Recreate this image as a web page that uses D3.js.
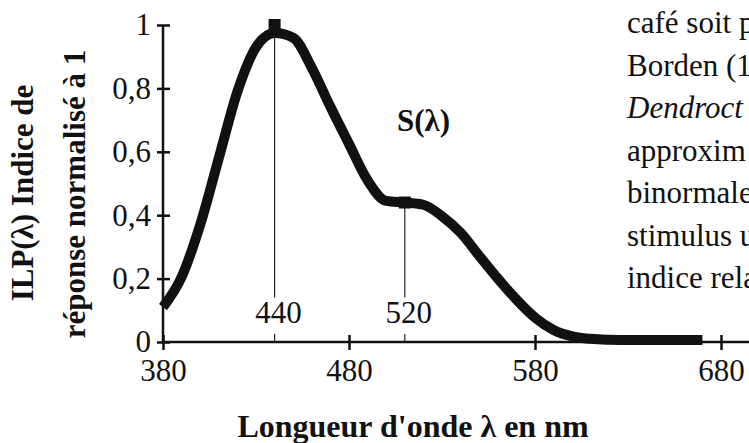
<!DOCTYPE html>
<html>
<head>
<meta charset="utf-8">
<script src="https://cdn.jsdelivr.net/npm/d3@7"></script>
<style>
body { margin: 0; background: #fff; }
svg { display: block; }
text { font-family: "Liberation Serif", "Times New Roman", serif; fill: #111; }
.axis text { font-size: 31px; font-family: "Liberation Serif", "Times New Roman", serif; }
.axis line, .axis-line { stroke: #111; }
.title { font-weight: bold; }
</style>
</head>
<body>
<svg id="chart"></svg>
<script>
var W = 749, H = 443;

// wavelength (nm) and normalised response
var wavelengths = [380, 390, 400, 410, 420, 430, 440, 450, 460, 470,
                   480, 490, 500, 510, 520, 530, 540, 550, 560, 570,
                   580, 590, 600, 610, 620, 630, 640, 650, 660, 670];
var response = [0.11, 0.205, 0.37, 0.58, 0.79, 0.93, 0.975, 0.96, 0.865, 0.742,
                0.625, 0.51, 0.445, 0.44, 0.433, 0.397, 0.345, 0.272, 0.20, 0.134,
                0.077, 0.038, 0.018, 0.01, 0.007, 0.006, 0.006, 0.006, 0.006, 0.006];

var xTicks = [380, 480, 580, 680];
var yTicks = [0, 0.2, 0.4, 0.6, 0.8, 1];
var yTickLabels = ["0", "0,2", "0,4", "0,6", "0,8", "1"];

// the two marked maxima (the second one sits a bit left of 520 on the scale)
var peakX = [440, 510];
var peakY = [1, 0.44];
var peakLabels = ["440", "520"];

var sideText = ["café soit p", "Borden (1", "Dendroct", "approxim", "binormale", "stimulus u", "indice rela"];

var x = d3.scaleLinear().domain([380, 680]).range([163, 721]);
var y = d3.scaleLinear().domain([0, 1]).range([342, 25]);

var svg = d3.select("#chart").attr("width", W).attr("height", H);

// axes
var gx = svg.append("g")
    .attr("class", "axis x-axis")
    .attr("transform", "translate(0," + y(0) + ")")
    .call(d3.axisBottom(x).tickValues(xTicks).tickSize(8).tickSizeOuter(0).tickPadding(9));
gx.select(".domain").remove();
gx.selectAll(".tick line").attr("y1", -7).attr("y2", 8).attr("stroke-width", 2.5);

var gy = svg.append("g")
    .attr("class", "axis y-axis")
    .attr("transform", "translate(" + x(380) + ",0)")
    .call(d3.axisLeft(y).tickValues(yTicks)
        .tickFormat(function(d, i) { return yTickLabels[i]; })
        .tickSize(6).tickSizeOuter(0).tickPadding(6));
gy.select(".domain").remove();
gy.selectAll(".tick line").attr("x1", 7).attr("x2", -6).attr("stroke-width", 2.5);

svg.append("line").attr("class", "axis-line")
    .attr("x1", x(380)).attr("x2", W)
    .attr("y1", y(0)).attr("y2", y(0))
    .attr("stroke-width", 2.5);
svg.append("line").attr("class", "axis-line")
    .attr("x1", x(380)).attr("x2", x(380))
    .attr("y1", y(0) + 1).attr("y2", y(1))
    .attr("stroke-width", 2.5);

// drop lines under the maxima, broken by their labels
peakX.forEach(function(px, i) {
    svg.append("line")
        .attr("x1", x(px)).attr("x2", x(px))
        .attr("y1", y(peakY[i])).attr("y2", y(0.14))
        .attr("stroke", "#222").attr("stroke-width", 1.2);
    svg.append("line")
        .attr("x1", x(px)).attr("x2", x(px))
        .attr("y1", y(0.025)).attr("y2", y(0))
        .attr("stroke", "#222").attr("stroke-width", 1.2);
    svg.append("text")
        .attr("x", x(px) + 4)
        .attr("y", 323)
        .attr("text-anchor", "middle")
        .style("font-size", "31px")
        .text(peakLabels[i]);
});

// response curve
var line = d3.line()
    .x(function(d, i) { return x(wavelengths[i]); })
    .y(function(d) { return y(d); })
    .curve(d3.curveMonotoneX);

svg.append("path")
    .datum(response)
    .attr("d", line)
    .attr("fill", "none")
    .attr("stroke", "#111")
    .attr("stroke-width", 10)
    .attr("stroke-linejoin", "round");

svg.selectAll(".peak")
    .data(peakX)
    .enter()
    .append("rect")
    .attr("class", "peak")
    .attr("x", function(d) { return x(d) - 6; })
    .attr("y", function(d, i) { return y(peakY[i]) - 6; })
    .attr("width", 12)
    .attr("height", 12)
    .attr("fill", "#111");

// series label
svg.append("text")
    .attr("class", "title")
    .attr("x", 397).attr("y", 131)
    .style("font-size", "31px")
    .text("S(λ)");

// axis titles
svg.append("text")
    .attr("class", "title")
    .attr("transform", "translate(33,193) rotate(-90)")
    .attr("text-anchor", "middle")
    .style("font-size", "31px")
    .text("ILP(λ) Indice de");
svg.append("text")
    .attr("class", "title")
    .attr("transform", "translate(85,194) rotate(-90)")
    .attr("text-anchor", "middle")
    .style("font-size", "31px")
    .text("réponse normalisé à 1");

svg.append("text")
    .attr("class", "title")
    .attr("x", 413).attr("y", 437)
    .attr("text-anchor", "middle")
    .style("font-size", "32px")
    .text("Longueur d'onde λ en nm");

// running text of the page, cut by the right edge
svg.selectAll(".side")
    .data(sideText)
    .enter()
    .append("text")
    .attr("class", "side")
    .attr("x", 627)
    .attr("y", function(d, i) { return 33 + i * 42.5; })
    .style("font-size", "31px")
    .style("font-style", function(d, i) { return i === 2 ? "italic" : "normal"; })
    .text(function(d) { return d; });
</script>
</body>
</html>
